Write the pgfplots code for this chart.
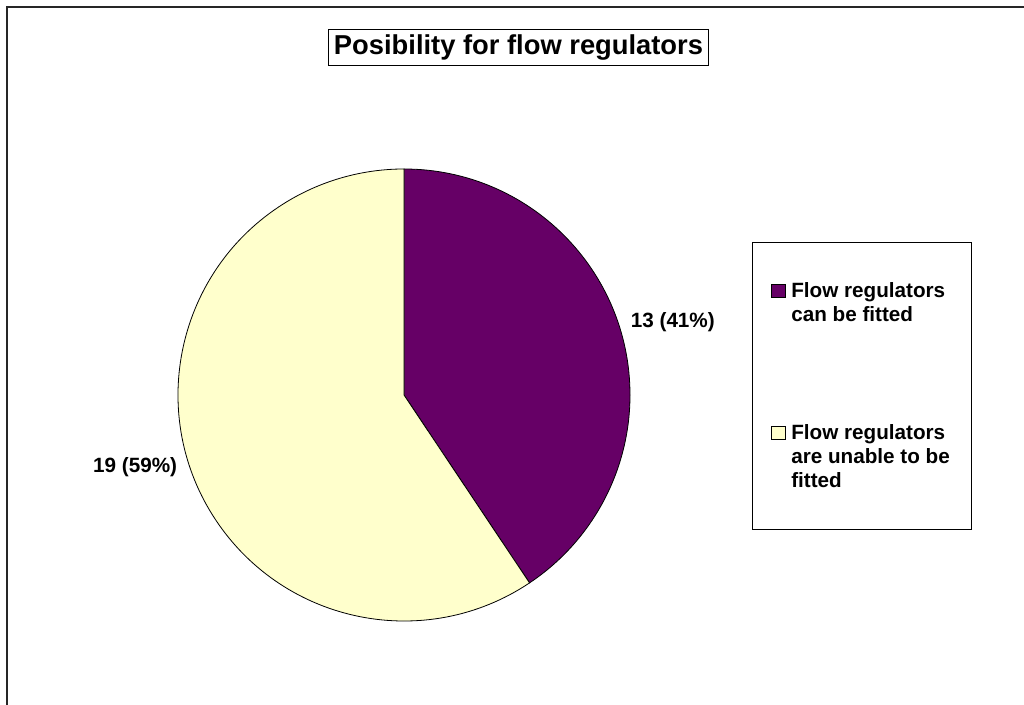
\documentclass[border=0pt]{standalone}
\usepackage{pgfplots}
\pgfplotsset{compat=1.18}
\usepackage{pgfplotstable}
\usepackage{fontspec}
\setmainfont{Liberation Sans}

\definecolor{slicepurple}{HTML}{660066}
\definecolor{sliceyellow}{HTML}{FFFFCC}

% one table per slice, centre of the pie at (0,0)
\pgfplotstableread{
x y value
0 0 13
}\fitted
\pgfplotstableread{
x y value
0 0 19
}\unable

\newcommand\pietotal{32}
\newcommand\pierad{169.5pt}
\newcommand\labfont{\fontsize{15.5pt}{18pt}\selectfont\bfseries}
\newcommand\titlefont{\fontsize{20.5pt}{24pt}\selectfont\bfseries}
\gdef\pieangle{90}

% #1 fill colour, #2 lift of the legend square (to sit on the first text line)
\pgfplotsset{
  pie slice/.style n args={2}{
    scatter, only marks, mark=*, mark size=0pt,
    point meta=\thisrow{value},
    visualization depends on={\thisrow{value} \as \pieval},
    scatter/@pre marker code/.code={%
      \pgfmathsetmacro\sweep{\pieval/\pietotal*360}%
      \pgfmathsetmacro\endang{\pieangle-\sweep}%
      \pgfmathsetmacro\midang{\pieangle-\sweep/2-1.8}%
      \pgfmathtruncatemacro\cnt{\pieval}%
      \pgfmathtruncatemacro\pct{round(\pieval/\pietotal*100)}%
      % canvas units here: the marker code is already shifted to the centre
      \filldraw[fill=#1, draw=black, line width=0.6pt] (0pt,0pt) -- (\pieangle:\pierad)
        arc[start angle=\pieangle, end angle=\endang, radius=\pierad] -- cycle;
      \node[font=\labfont] at (\midang:1.232*\pierad) {\cnt\ (\pct\%)};
      \xdef\pieangle{\endang}%
    },
    scatter/@post marker code/.code={},
    legend image code/.code={%
      \path[draw=none, fill=none] (0pt,0pt) -- (10.5pt,0pt);
      \draw[fill=#1, draw=black, line width=0.6pt] (0pt,#2) rectangle (10.5pt,#2+9.8pt);},
  },
}

\begin{document}
\begin{tikzpicture}
\useasboundingbox (0,0) rectangle (768pt,528.75pt);
\draw[line width=1.5pt, black!85] (5.25pt,-10pt) -- (5.25pt,523.5pt) -- (790pt,523.5pt);
\begin{axis}[
  at={(303pt,232.5pt)}, anchor=center,
  scale only axis, width=339pt, height=339pt,
  xmin=-1, xmax=1, ymin=-1, ymax=1,
  hide axis, clip=false,
  every axis title shift=0pt,
  title={Posibility for flow regulators},
  title style={at={(0.7533,1.2677)}, anchor=center, draw=black, line width=0.75pt,
    font=\titlefont, inner xsep=4pt, minimum height=27pt, minimum width=284.25pt},
  legend cell align=left,
  legend style={at={(1.27,0.8385)}, anchor=north west, draw=black, line width=0.75pt,
    font=\labfont, cells={align=left, anchor=base west}, inner xsep=14pt, inner ysep=28pt,
    row sep=72pt, column sep=2pt},
]
\addplot[pie slice={slicepurple}{18pt}] table {\fitted};
\addlegendentry{Flow regulators\\can be fitted}
\addplot[pie slice={sliceyellow}{36pt}] table {\unable};
\addlegendentry{Flow regulators\\are unable to be\\fitted}
\end{axis}
\end{tikzpicture}
\end{document}
